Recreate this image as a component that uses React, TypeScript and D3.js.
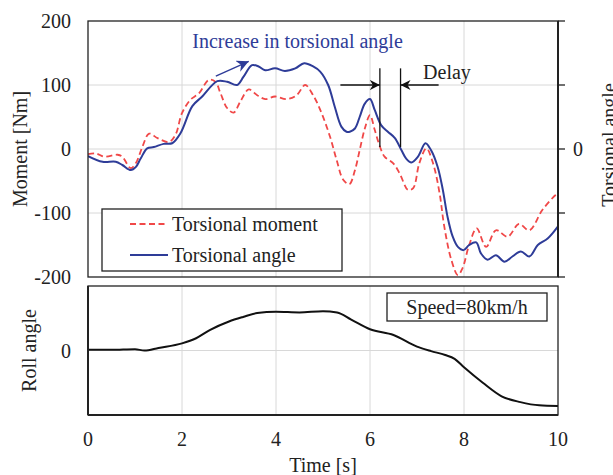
import React from "react";
import * as d3 from "d3";

// torsional angle (blue, solid), read in moment units on the left axis
const angleT = [0, 0.31, 0.59, 0.73, 0.91, 1.02, 1.12, 1.26, 1.4, 1.61, 1.79, 1.97, 2.22, 2.43, 2.75, 2.96, 3.17, 3.31, 3.49, 3.63, 3.77, 3.98, 4.19, 4.41, 4.6, 4.79, 4.94, 5.11, 5.25, 5.39, 5.5, 5.57, 5.68, 5.78, 5.89, 6.0, 6.1, 6.24, 6.38, 6.53, 6.67, 6.77, 6.88, 7.02, 7.18, 7.3, 7.44, 7.55, 7.65, 7.76, 7.87, 7.99, 8.11, 8.26, 8.36, 8.5, 8.68, 8.86, 9.03, 9.21, 9.39, 9.57, 9.78, 10];
const angleV = [-11, -20, -20, -25, -33, -28, -15, 1, 3, 8, 9, 25, 67, 82, 106, 105, 100, 113, 131, 129, 123, 126, 122, 126, 134, 129, 121, 100, 66, 35, 27, 27, 32, 50, 71, 78, 61, 37, 27, 17, -2, -15, -21, -12, 9, -2, -28, -64, -106, -137, -153, -158, -150, -146, -163, -173, -166, -176, -168, -160, -168, -150, -140, -121];

// torsional moment (red, dashed) [Nm]
const momentT = [0, 0.17, 0.35, 0.63, 0.73, 0.91, 1.02, 1.16, 1.3, 1.48, 1.72, 1.86, 2.0, 2.18, 2.36, 2.57, 2.71, 2.82, 2.96, 3.1, 3.24, 3.42, 3.6, 3.77, 3.98, 4.23, 4.44, 4.62, 4.79, 4.97, 5.15, 5.29, 5.43, 5.56, 5.68, 5.78, 5.89, 6.0, 6.1, 6.21, 6.31, 6.49, 6.63, 6.81, 6.92, 7.05, 7.2, 7.34, 7.48, 7.58, 7.73, 7.87, 7.97, 8.11, 8.27, 8.47, 8.68, 8.93, 9.17, 9.39, 9.67, 9.95, 10];
const momentV = [-8, -7, -12, -9, -12, -30, -22, 4, 24, 17, 11, 22, 56, 77, 87, 108, 105, 87, 64, 57, 74, 93, 84, 78, 82, 78, 84, 100, 84, 56, 19, -17, -48, -55, -33, -2, 32, 53, 30, 4, -12, -22, -38, -64, -61, -22, 1, -22, -69, -121, -173, -197, -186, -150, -124, -153, -127, -137, -117, -127, -95, -72, -70];

// roll angle (relative, 0 in the middle of the lower panel)
const rollT = [0, 0.5, 1.0, 1.2, 1.5, 2, 2.3, 2.6, 3, 3.3, 3.6, 4, 4.5, 5, 5.3, 5.6, 6, 6.5, 7, 7.3, 7.6, 7.8, 8, 8.4, 8.8, 9.2, 9.6, 10];
const rollV = [0.01, 0.01, 0.02, 0, 0.04, 0.11, 0.19, 0.32, 0.45, 0.52, 0.58, 0.6, 0.59, 0.61, 0.59, 0.48, 0.33, 0.24, 0.06, -0.01, -0.07, -0.13, -0.26, -0.5, -0.71, -0.8, -0.85, -0.86];

const xTicks = [0, 2, 4, 6, 8, 10];
const momentTicks = [200, 100, 0, -100, -200];
const angleTicks = [100, 0, -100];
const legendLabels = ["Torsional moment", "Torsional angle"];

const W = 613, H = 475;
const FONT = "'Liberation Serif', 'Times New Roman', serif";
const BLUE = "#2e3c98";
const RED = "#f04848";

export default function App() {
  const x = d3.scaleLinear().domain([0, 10]).range([88, 558]);
  const yTop = d3.scaleLinear().domain([-200, 200]).range([277, 21]);
  const yRoll = d3.scaleLinear().domain([-1, 1]).range([415, 286]);

  const lineTop = d3.line<[number, number]>()
    .x(d => x(d[0])).y(d => yTop(d[1]))
    .curve(d3.curveCatmullRom.alpha(0.5));
  const lineRoll = d3.line<[number, number]>()
    .x(d => x(d[0])).y(d => yRoll(d[1]))
    .curve(d3.curveMonotoneX);

  const angleData = angleT.map((t, i) => [t, angleV[i]] as [number, number]);
  const momentData = momentT.map((t, i) => [t, momentV[i]] as [number, number]);
  const rollData = rollT.map((t, i) => [t, rollV[i]] as [number, number]);

  const [x0, x1] = x.range();
  const grid = "#d8d8d8";

  return (
    <svg width={W} height={H} style={{ position: "absolute", left: 0, top: 0 }}
      fontFamily={FONT} fontSize={20}>
      <defs>
        <marker id="hk" viewBox="0 0 10 10" refX="10" refY="5" markerWidth="10" markerHeight="10"
          markerUnits="userSpaceOnUse" orient="auto">
          <path d="M0,0 L10,5 L0,10 L3,5 Z" fill="#111" />
        </marker>
        <marker id="hb" viewBox="0 0 10 10" refX="10" refY="5" markerWidth="12" markerHeight="12"
          markerUnits="userSpaceOnUse" orient="auto">
          <path d="M0,0 L10,5 L0,10 L3,5 Z" fill={BLUE} />
        </marker>
        <clipPath id="clipTop">
          <rect x={x0} y={21} width={x1 - x0} height={256} />
        </clipPath>
      </defs>

      {/* top panel grid */}
      {xTicks.slice(1, -1).map(t => (
        <line key={"gx" + t} x1={x(t)} x2={x(t)} y1={21} y2={277} stroke={grid} />
      ))}
      {momentTicks.slice(1, -1).map(v => (
        <line key={"gy" + v} x1={x0} x2={x1} y1={yTop(v)} y2={yTop(v)} stroke={grid} />
      ))}

      {/* lines */}
      <g clipPath="url(#clipTop)">
        <path d={lineTop(momentData) || ""} fill="none" stroke={RED} strokeWidth={1.8} strokeDasharray="6,3.5" />
        <path d={lineTop(angleData) || ""} fill="none" stroke={BLUE} strokeWidth={2} />
      </g>

      {/* top frame */}
      <rect x={x0} y={21} width={x1 - x0} height={256} fill="none" stroke="#222" strokeWidth={1.3} />
      <line x1={x1} x2={x1} y1={21} y2={277} stroke="#222" strokeWidth={2} />
      {[200, ...angleTicks, -200].map(v => (
        <line key={"rt" + v} x1={x1} x2={x1 + 7} y1={yTop(v)} y2={yTop(v)} stroke="#222" strokeWidth={1.3} />
      ))}

      {/* left ticks */}
      {momentTicks.map(v => (
        <text key={"lt" + v} x={71} y={yTop(v)} dy="0.35em" textAnchor="end" fill="#222">{v}</text>
      ))}
      <text x={578} y={yTop(0)} dy="0.35em" textAnchor="middle" fill="#222">0</text>
      <text transform={`translate(27,${yTop(0)}) rotate(-90)`} textAnchor="middle" fill="#222">Moment [Nm]</text>
      <text transform={`translate(616,145) rotate(-90)`} textAnchor="middle" fill="#222">Torsional angle</text>

      {/* legend */}
      <rect x={102} y={209} width={240} height={62} fill="#fff" stroke="#222" strokeWidth={1.3} />
      <line x1={130} x2={168} y1={224} y2={224} stroke={RED} strokeWidth={1.8} strokeDasharray="6,3.5" />
      <text x={172} y={224} dy="0.33em" fill="#222">{legendLabels[0]}</text>
      <line x1={130} x2={168} y1={255} y2={255} stroke={BLUE} strokeWidth={2} />
      <text x={172} y={255} dy="0.33em" fill="#222">{legendLabels[1]}</text>

      {/* annotations */}
      <text x={x(2.22)} y={48} fill={BLUE}>Increase in torsional angle</text>
      <line x1={x(2.72)} y1={yTop(114)} x2={x(3.42)} y2={yTop(137)} stroke={BLUE} strokeWidth={1.4} markerEnd="url(#hb)" />

      <line x1={x(6.21)} x2={x(6.21)} y1={yTop(126)} y2={yTop(3)} stroke="#111" strokeWidth={1.3} />
      <line x1={x(6.65)} x2={x(6.65)} y1={yTop(126)} y2={yTop(3)} stroke="#111" strokeWidth={1.3} />
      <line x1={x(5.37)} x2={x(6.21)} y1={yTop(100)} y2={yTop(100)} stroke="#111" strokeWidth={1.3} markerEnd="url(#hk)" />
      <line x1={x(7.46)} x2={x(6.65)} y1={yTop(100)} y2={yTop(100)} stroke="#111" strokeWidth={1.3} markerEnd="url(#hk)" />
      <text x={x(7.13)} y={79} fill="#222">Delay</text>

      {/* bottom panel */}
      {xTicks.slice(1, -1).map(t => (
        <line key={"bgx" + t} x1={x(t)} x2={x(t)} y1={286} y2={415} stroke={grid} />
      ))}
      <line x1={x0} x2={x1} y1={yRoll(0)} y2={yRoll(0)} stroke={grid} />
      <path d={lineRoll(rollData) || ""} fill="none" stroke="#111" strokeWidth={2} />
      <rect x={x0} y={286} width={x1 - x0} height={129} fill="none" stroke="#222" strokeWidth={1.3} />
      <line x1={x0} x2={x0} y1={286} y2={415} stroke="#222" strokeWidth={2} />
      <line x1={x0} x2={x1} y1={415} y2={415} stroke="#222" strokeWidth={2} />

      <rect x={387} y={293} width={160} height={28} fill="#fff" stroke="#222" strokeWidth={1.3} />
      <text x={467} y={307} dy="0.35em" textAnchor="middle" fill="#222">Speed=80km/h</text>

      <text x={71} y={yRoll(0)} dy="0.35em" textAnchor="end" fill="#222">0</text>
      <text transform={`translate(36,${yRoll(0)}) rotate(-90)`} textAnchor="middle" fill="#222">Roll angle</text>

      {xTicks.map(t => (
        <text key={"xt" + t} x={x(t)} y={439} dy="0.35em" textAnchor="middle" fill="#222">{t}</text>
      ))}
      <text x={x(5)} y={465} dy="0.35em" textAnchor="middle" fill="#222">Time [s]</text>
    </svg>
  );
}
